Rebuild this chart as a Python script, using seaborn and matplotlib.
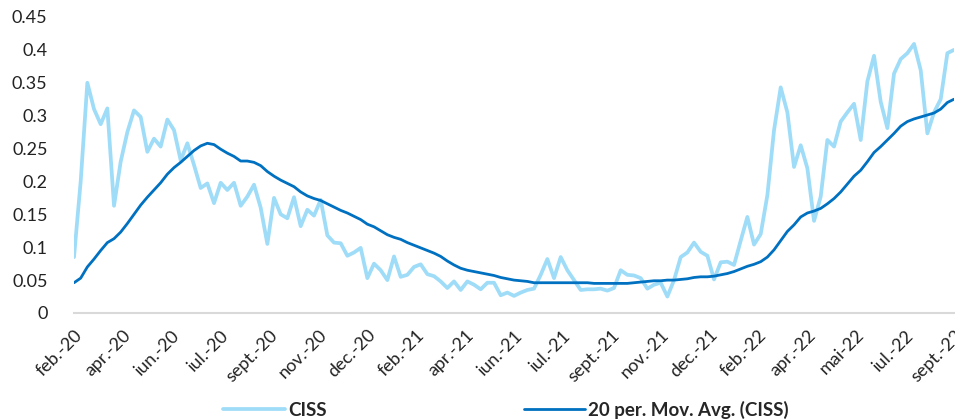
import matplotlib
matplotlib.use('Agg')
import matplotlib.pyplot as plt
import numpy as np
import pandas as pd
import seaborn as sns

# weekly CISS readings, feb-20 to sept-22
ciss = [0.085, 0.2, 0.35, 0.31, 0.287, 0.311, 0.163, 0.23, 0.275, 0.308, 0.298, 0.245, 0.265, 0.253, 0.294,
        0.278, 0.232, 0.258, 0.225,
        0.19, 0.197, 0.167, 0.198, 0.187, 0.198, 0.163, 0.177, 0.195, 0.16, 0.105, 0.175, 0.15, 0.144, 0.176,
        0.132, 0.157, 0.148, 0.172,
        0.118, 0.107, 0.106, 0.087, 0.092, 0.099, 0.053, 0.075, 0.065, 0.05, 0.086, 0.055, 0.058, 0.07, 0.074,
        0.059, 0.056, 0.048,
        0.038, 0.048, 0.035, 0.048, 0.043, 0.036, 0.046, 0.046, 0.027, 0.031, 0.026, 0.031, 0.035, 0.037, 0.058,
        0.082, 0.053, 0.085, 0.065,
        0.05, 0.035, 0.036, 0.036, 0.037, 0.034, 0.038, 0.065, 0.058, 0.057, 0.053, 0.037, 0.043, 0.046, 0.025,
        0.05, 0.085, 0.092,
        0.107, 0.093, 0.087, 0.051, 0.077, 0.078, 0.073, 0.11, 0.146, 0.104, 0.12, 0.179, 0.278, 0.343, 0.305,
        0.222, 0.255, 0.22, 0.14,
        0.177, 0.263, 0.253, 0.291, 0.305, 0.318, 0.263, 0.352, 0.391, 0.321, 0.281, 0.364, 0.386, 0.395, 0.409,
        0.369, 0.273, 0.305, 0.325, 0.395, 0.40]

# 20 period moving average as drawn (starts from data before feb-20)
mov_avg = [0.046, 0.053, 0.07, 0.082, 0.095, 0.107, 0.113, 0.123, 0.136, 0.15, 0.164, 0.176, 0.187, 0.198, 0.211,
           0.221, 0.229, 0.238, 0.247,
           0.254, 0.258, 0.256, 0.249, 0.243, 0.238, 0.231, 0.231, 0.229, 0.224, 0.215, 0.208, 0.202, 0.197, 0.192,
           0.184, 0.178, 0.174, 0.171,
           0.166, 0.161, 0.156, 0.152, 0.147, 0.142, 0.135, 0.131, 0.125, 0.119, 0.115, 0.112, 0.107, 0.103, 0.099,
           0.095, 0.091, 0.086,
           0.079, 0.073, 0.068, 0.065, 0.063, 0.061, 0.059, 0.057, 0.054, 0.052, 0.05, 0.049, 0.048, 0.046, 0.046,
           0.046, 0.046, 0.046, 0.046,
           0.046, 0.046, 0.046, 0.045, 0.045, 0.045, 0.045, 0.045, 0.045, 0.046, 0.047, 0.048, 0.049, 0.049, 0.05,
           0.05, 0.051, 0.052,
           0.054, 0.055, 0.055, 0.056, 0.058, 0.06, 0.063, 0.067, 0.071, 0.074, 0.078, 0.085, 0.096, 0.11, 0.124,
           0.134, 0.146, 0.152, 0.155,
           0.159, 0.166, 0.174, 0.184, 0.196, 0.208, 0.217, 0.23, 0.244, 0.253, 0.263, 0.273, 0.284, 0.291, 0.295,
           0.298, 0.301, 0.304, 0.31, 0.32, 0.325]

tick_labels = ['feb.-20', 'apr.-20', 'iun.-20', 'iul.-20', 'sept.-20', 'nov.-20', 'dec.-20', 'feb.-21', 'apr.-21',
               'iun.-21', 'iul.-21', 'sept.-21', 'nov.-21', 'dec.-21', 'feb.-22', 'apr.-22', 'mai-22', 'iul.-22',
               'sept.-22']
y_ticks = [0, 0.05, 0.1, 0.15, 0.2, 0.25, 0.3, 0.35, 0.4, 0.45]
y_labels = ['0', '0.05', '0.1', '0.15', '0.2', '0.25', '0.3', '0.35', '0.4', '0.45']

sns.set_style('white')
plt.rcParams['font.family'] = ['Lato', 'DejaVu Sans']

df = pd.DataFrame({'week': np.arange(len(ciss)), 'CISS': ciss, '20 per. Mov. Avg. (CISS)': mov_avg})

fig = plt.figure(figsize=(9.55, 4.19), dpi=100)
ax = fig.add_axes([0.0775, 0.253, 0.9215, 0.7065])
sns.lineplot(data=df, x='week', y='CISS', ax=ax, color='#9fdcf8', linewidth=2.7, label='CISS')
sns.lineplot(data=df, x='week', y='20 per. Mov. Avg. (CISS)', ax=ax, color='#0070c0', linewidth=2.0,
             label='20 per. Mov. Avg. (CISS)')

ax.set_xlim(0, len(ciss) - 1)
ax.set_ylim(0, 0.45)
ax.set_xlabel('')
ax.set_ylabel('')
ax.set_yticks(y_ticks)
ax.set_yticklabels(y_labels, fontsize=13, color='#222222')
ax.set_xticks(np.linspace(0, len(ciss) - 1, len(tick_labels)))
ax.set_xticklabels(tick_labels, rotation=45, ha='right', rotation_mode='anchor', fontsize=13, color='#222222')
ax.tick_params(axis='x', direction='out', length=6, width=1.2, color='#d9d9d9', pad=4)
ax.tick_params(axis='y', length=0, pad=19)
for side in ['top', 'right', 'left']:
    ax.spines[side].set_visible(False)
ax.spines['bottom'].set_color('#d9d9d9')
ax.spines['bottom'].set_linewidth(1.5)

ax.get_legend().remove()
handles, labels = ax.get_legend_handles_labels()
fig.legend(handles, labels, loc='lower center', bbox_to_anchor=(0.53, -0.04), ncol=2, frameon=False,
           handlelength=3.3, handletextpad=0.15, columnspacing=10.5, prop={'weight': 'bold', 'size': 13.5})

fig.savefig('out.png', dpi=100)
